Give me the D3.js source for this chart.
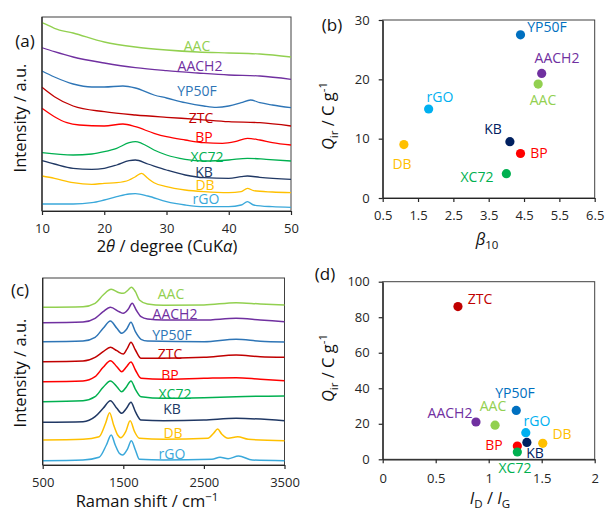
<!DOCTYPE html>
<html><head><meta charset="utf-8">
<script src="https://cdn.jsdelivr.net/npm/d3@7"></script>
<style>
body{margin:0;background:#fff}
svg{display:block}
text{font-family:"Open Sans",sans-serif}
</style>
</head><body>
<svg id="c" width="606" height="511"></svg>
<script>
// ---------- shared ----------
const samples = ["AAC","AACH2","YP50F","ZTC","BP","XC72","KB","DB","rGO"];
const lineColors = {AAC:"#92D050",AACH2:"#7030A0",YP50F:"#2E75B6",ZTC:"#C00000",BP:"#FF0000",XC72:"#00B050",KB:"#203864",DB:"#FFC000",rGO:"#3AA8DA"};
const dotColors  = {AAC:"#92D050",AACH2:"#7030A0",YP50F:"#0070C0",ZTC:"#C00000",BP:"#FF0000",XC72:"#00B050",KB:"#002060",DB:"#FFC000",rGO:"#00B0F0"};

// ---------- (a) XRD: [2theta, intensity a.u.] ----------
const xrdAAC   = [[10,188.3],[11,185.7],[12,182.7],[15,178],[20,169],[25,164],[30,161],[35,159],[40,158],[45,157],[50,154]];
const xrdAACH2 = [[10,163.3],[12,159.3],[15,154],[20,148],[25,143.3],[30,140.3],[35,138],[40,136],[45,135],[50,131.7]];
const xrdYP50F = [[10,140],[12,134],[15,127],[18,124],[20,124],[23,125],[25,123],[28,116],[30,113],[33,108.3],[36,105],[38,103.7],[40,105],[42,108.3],[43.5,111],[45,108.3],[47,106],[50,103.3]];
const xrdZTC   = [[10,123.7],[12,114.3],[15,105],[20,99.3],[25,96],[30,93.7],[35,91.7],[40,89.3],[45,88.3],[50,85]];
const xrdBP    = [[10,102.7],[12,94.3],[14,88.3],[16,86],[20,85],[23,87],[25,84.3],[28,77.7],[30,74.3],[33,71],[36,68.3],[39,67.7],[41,69.3],[43,72.7],[45,71],[47,68.3],[50,66]];
const xrdXC72  = [[10,58.3],[15,56],[18,57],[20,59.3],[22,62.7],[24,68.3],[25,69.3],[26,67.7],[28,61],[30,56],[33,51.7],[36,50],[40,51],[43,52.7],[46,51.7],[50,50]];
const xrdKB    = [[10,50.3],[12,47],[15,42.7],[18,41.7],[20,42.7],[22,46],[24,50.3],[25,51],[27,47],[30,41],[33,36],[36,33.3],[40,32.7],[42,34.3],[43,35],[45,33.7],[50,31.7]];
const xrdDB    = [[10,35],[12,32.7],[15,28.3],[18,26.7],[20,27.7],[22,28.3],[24,31],[25,34.3],[26,37.7],[27,32.7],[28,28.3],[30,24.3],[33,21],[36,19.3],[40,18.3],[42,19.3],[43,22.7],[44,20.3],[47,19],[50,18.3]];
const xrdRGO   = [[10,7],[15,7],[18,8.3],[20,11],[22,14.3],[24,17],[25,17.3],[27,15],[30,9.3],[33,6],[36,4.3],[40,4.3],[42,6],[43,9.3],[44,6],[47,4.3],[50,3.7]];
const xrdTicks = [10,20,30,40,50];

// ---------- (c) Raman: [shift cm-1, intensity a.u.] ----------
const ramAAC   = [[500,157.7],[1000,158.3],[1150,161.7],[1250,170],[1350,175.7],[1450,172.3],[1500,171.7],[1560,175],[1600,177.7],[1650,173.3],[1700,165],[1800,161],[2000,159.7],[2500,160],[2900,162.3],[3200,161],[3500,160]];
const ramAACH2 = [[500,142.3],[1000,143],[1150,146.7],[1250,153.3],[1340,157.7],[1450,153.3],[1500,151.7],[1560,155.7],[1610,161.7],[1660,155],[1720,148.3],[1800,146],[2000,145],[2500,145],[2900,146.7],[3200,145],[3500,143.3]];
const ramYP50F = [[500,123.3],[1000,124],[1150,127.7],[1250,136.7],[1340,144],[1420,136.7],[1480,131.7],[1540,135.7],[1595,142.7],[1650,133.3],[1720,125.7],[1800,124],[2500,123.3],[2900,125.7],[3200,123.7],[3500,123]];
const ramZTC   = [[500,103.3],[1000,104],[1150,107.7],[1250,113.3],[1340,117.7],[1420,114.3],[1500,111],[1550,116.7],[1595,122.7],[1650,115],[1720,106.7],[1900,106.7],[2500,107.7],[2900,110],[3200,108.3],[3500,107.7]];
const ramBP    = [[500,83.3],[1000,84],[1150,88.3],[1250,97.7],[1340,104.3],[1420,98.3],[1480,93.3],[1540,98.3],[1595,103],[1650,95],[1720,86.7],[2000,85.7],[2500,86.7],[2900,87.3],[3200,85.7],[3500,84.3]];
const ramXC72  = [[500,63.3],[1000,64.3],[1150,68.3],[1250,77.7],[1340,84],[1420,78.3],[1480,73.3],[1540,78.3],[1595,84],[1650,75.7],[1720,68.3],[2000,66.7],[2500,67.3],[2900,68.3],[3500,69]];
const ramKB    = [[500,42.7],[1000,43.3],[1150,48.3],[1250,56.7],[1340,64.3],[1420,56.7],[1480,51.7],[1540,56.7],[1595,62.7],[1650,53.3],[1720,45],[2000,44.3],[2500,45],[2900,46.7],[3500,44.3]];
const ramDB    = [[500,25],[1000,25.7],[1200,28.3],[1280,41.7],[1330,52.3],[1380,40],[1430,30],[1470,27.3],[1530,33.3],[1585,44.3],[1640,33.3],[1700,26.7],[2000,25.7],[2550,26.7],[2620,31.7],[2670,36],[2720,31],[2800,26.7],[2920,28.3],[3050,25.7],[3500,24.3]];
const ramRGO   = [[500,4.3],[1000,5],[1200,7.7],[1290,20],[1350,30],[1400,20],[1450,11.7],[1490,10],[1550,15.7],[1600,24.3],[1650,15],[1700,5.7],[2000,5],[2600,5.7],[2700,7.7],[2800,6.3],[2930,9],[3100,5],[3500,4.3]];
const ramanTicks = [500,1500,2500,3500];

// ---------- (b),(d) scatter ----------
const qir   = [19.2, 21, 27.5, 86, 7.5, 4.1, 9.5, 9, 15];          // same order as samples
const beta10 = [4.9, 5.0, 4.4, null, 4.4, 4.0, 4.1, 1.1, 1.8];
const idig  = [1.06, 0.88, 1.26, 0.71, 1.27, 1.27, 1.36, 1.51, 1.35];
const betaTicks = [0.5,1.5,2.5,3.5,4.5,5.5,6.5];
const qTicksB = [0,10,20,30];
const idigTicks = [0,0.5,1,1.5,2];
const qTicksD = [0,20,40,60,80,100];

const xrdData = {AAC:xrdAAC,AACH2:xrdAACH2,YP50F:xrdYP50F,ZTC:xrdZTC,BP:xrdBP,XC72:xrdXC72,KB:xrdKB,DB:xrdDB,rGO:xrdRGO};
const ramData = {AAC:ramAAC,AACH2:ramAACH2,YP50F:ramYP50F,ZTC:ramZTC,BP:ramBP,XC72:ramXC72,KB:ramKB,DB:ramDB,rGO:ramRGO};

// label placements (layout)
const xrdLabelPos = {AAC:[197,46],AACH2:[200,66],YP50F:[197,91],ZTC:[201,118],BP:[204,137],XC72:[207,157],KB:[204,172],DB:[205,185],rGO:[206,199]};
const ramLabelPos = {AAC:[171,294],AACH2:[175,314],YP50F:[172,335],ZTC:[170,354],BP:[170,375],XC72:[175,394],KB:[172,409],DB:[173,433],rGO:[172,454]};
const bLabelPos = {YP50F:[547,27],AACH2:[557,58],AAC:[543,100],rGO:[440,97],DB:[402,164],KB:[493,129],BP:[539,153],XC72:[477,177]};
const dLabelPos = {ZTC:[480,299],YP50F:[515,393],AACH2:[450,413],AAC:[493,406],rGO:[537,421],DB:[562,434],BP:[494,445],KB:[535,453],XC72:[515,468]};

const svg = d3.select("#c");
const AX = "#262626";
const TITLE = "16.5px";

function frame(x0,y0,x1,y1){
  svg.append("rect").attr("x",x0).attr("y",y0).attr("width",x1-x0).attr("height",y1-y0)
    .attr("fill","none").attr("stroke","#404040").attr("stroke-width",1);
}
function styleAxis(g){
  g.selectAll("path").attr("stroke",AX).attr("stroke-width",1.2);
  g.selectAll("line").attr("stroke",AX).attr("stroke-width",1.2);
  g.selectAll("text").attr("fill","#262626").style("font-size","13px").style("font-family","'Open Sans',sans-serif");
}
function panelLabel(t,x,y){
  svg.append("text").attr("x",x).attr("y",y).attr("text-anchor","middle").attr("dy","0.35em")
    .style("font-size","17px").attr("fill","#111").text(t);
}
function label(t,x,y,c,fs){
  svg.append("text").attr("x",x).attr("y",y).attr("text-anchor","middle").attr("dy","0.35em")
    .style("font-size",(fs||14)+"px").attr("fill",c).text(t);
}
function yTitleIntensity(x,y){
  svg.append("text").attr("transform",`translate(${x},${y}) rotate(-90)`).attr("text-anchor","middle")
    .attr("dy","0.35em").style("font-size",TITLE).attr("fill","#111").text("Intensity / a.u.");
}
function yTitleQ(x,y){
  const t = svg.append("text").attr("transform",`translate(${x},${y}) rotate(-90)`).attr("text-anchor","middle")
    .attr("dy","0.35em").style("font-size",TITLE).attr("fill","#111");
  t.append("tspan").style("font-style","italic").text("Q");
  t.append("tspan").style("font-size","11.5px").attr("dy","4").text("ir");
  t.append("tspan").attr("dy","-4").text(" / C g");
  t.append("tspan").style("font-size","11.5px").attr("dy","-7").text("-1");
}

// ---------- panel (a) ----------
{
  const x = d3.scaleLinear([10,50],[42,291]);
  const y = d3.scaleLinear([0,194],[211,17]);
  frame(42,17,291,211);
  const line = d3.line().x(d=>x(d[0])).y(d=>y(d[1])).curve(d3.curveMonotoneX);
  samples.forEach(s=>{
    svg.append("path").datum(xrdData[s]).attr("d",line).attr("fill","none")
      .attr("stroke",lineColors[s]).attr("stroke-width",1.3);
    label(s, xrdLabelPos[s][0], xrdLabelPos[s][1], lineColors[s]);
  });
  const g = svg.append("g").attr("transform","translate(0,211)")
    .call(d3.axisBottom(x).tickValues(xrdTicks).tickSize(4).tickSizeOuter(0).tickPadding(9));
  styleAxis(g);
  svg.append("line").attr("x1",42).attr("x2",42).attr("y1",17).attr("y2",211).attr("stroke",AX).attr("stroke-width",1.2);
  panelLabel("(a)",25,41);
  yTitleIntensity(20,118);
  const t = svg.append("text").attr("x",167).attr("y",246).attr("text-anchor","middle").attr("dy","0.35em")
    .style("font-size",TITLE).attr("fill","#111");
  t.append("tspan").text("2");
  t.append("tspan").style("font-style","italic").text("θ");
  t.append("tspan").text(" / degree (CuK");
  t.append("tspan").style("font-style","italic").text("α");
  t.append("tspan").text(")");
}

// ---------- panel (c) ----------
{
  const x = d3.scaleLinear([500,3500],[42.7,284.5]);
  const y = d3.scaleLinear([0,187],[465,278]);
  frame(42.7,278,284.5,465);
  const line = d3.line().x(d=>x(d[0])).y(d=>y(d[1])).curve(d3.curveMonotoneX);
  samples.forEach(s=>{
    svg.append("path").datum(ramData[s]).attr("d",line).attr("fill","none")
      .attr("stroke",lineColors[s]).attr("stroke-width",1.5);
    label(s, ramLabelPos[s][0], ramLabelPos[s][1], lineColors[s]);
  });
  const g = svg.append("g").attr("transform","translate(0,465)")
    .call(d3.axisBottom(x).tickValues(ramanTicks).tickFormat(d3.format("d")).tickSize(4).tickSizeOuter(0).tickPadding(9));
  styleAxis(g);
  svg.append("line").attr("x1",42.7).attr("x2",42.7).attr("y1",278).attr("y2",465).attr("stroke",AX).attr("stroke-width",1.2);
  panelLabel("(c)",20,290);
  yTitleIntensity(20,373);
  const t = svg.append("text").attr("x",147).attr("y",501).attr("text-anchor","middle").attr("dy","0.35em")
    .style("font-size",TITLE).attr("fill","#111");
  t.append("tspan").text("Raman shift / cm");
  t.append("tspan").style("font-size","11.5px").attr("dy","-6").text("−1");
}

// ---------- panel (b) ----------
{
  const x = d3.scaleLinear([0.5,6.5],[382.7,594.7]);
  const y = d3.scaleLinear([0,30],[198,20]);
  frame(382.7,20,594.7,198);
  const gx = svg.append("g").attr("transform","translate(0,198)")
    .call(d3.axisBottom(x).tickValues(betaTicks).tickFormat(d3.format(".1f")).tickSize(4).tickSizeOuter(0).tickPadding(9));
  styleAxis(gx);
  const gy = svg.append("g").attr("transform","translate(382.7,0)")
    .call(d3.axisLeft(y).tickValues(qTicksB).tickSize(4).tickSizeOuter(0).tickPadding(9));
  styleAxis(gy);
  samples.forEach((s,i)=>{
    if(beta10[i]==null) return;
    svg.append("circle").attr("cx",x(beta10[i])).attr("cy",y(qir[i])).attr("r",4.6).attr("fill",dotColors[s]);
    label(s, bLabelPos[s][0], bLabelPos[s][1], dotColors[s]);
  });
  panelLabel("(b)",332,25);
  yTitleQ(328,116);
  const t = svg.append("text").attr("x",487).attr("y",239).attr("text-anchor","middle").attr("dy","0.35em")
    .style("font-size",TITLE).attr("fill","#111");
  t.append("tspan").style("font-style","italic").text("β");
  t.append("tspan").style("font-size","11.5px").attr("dy","4").text("10");
}

// ---------- panel (d) ----------
{
  const x = d3.scaleLinear([0,2],[382.7,594.7]);
  const y = d3.scaleLinear([0,100],[459.3,281.7]);
  frame(382.7,281.7,594.7,459.3);
  const gx = svg.append("g").attr("transform","translate(0,459.3)")
    .call(d3.axisBottom(x).tickValues(idigTicks).tickFormat(d=>String(d)).tickSize(4).tickSizeOuter(0).tickPadding(10));
  styleAxis(gx);
  const gy = svg.append("g").attr("transform","translate(382.7,0)")
    .call(d3.axisLeft(y).tickValues(qTicksD).tickSize(4).tickSizeOuter(0).tickPadding(9));
  styleAxis(gy);
  samples.forEach((s,i)=>{
    svg.append("circle").attr("cx",x(idig[i])).attr("cy",y(qir[i])).attr("r",4.6).attr("fill",dotColors[s]);
    label(s, dLabelPos[s][0], dLabelPos[s][1], dotColors[s]);
  });
  panelLabel("(d)",325,274);
  yTitleQ(328,368);
  const t = svg.append("text").attr("x",490).attr("y",498).attr("text-anchor","middle").attr("dy","0.35em")
    .style("font-size",TITLE).attr("fill","#111");
  t.append("tspan").style("font-style","italic").text("I");
  t.append("tspan").style("font-size","11.5px").attr("dy","4").text("D");
  t.append("tspan").attr("dy","-4").text(" / ");
  t.append("tspan").style("font-style","italic").text("I");
  t.append("tspan").style("font-size","11.5px").attr("dy","4").text("G");
}
</script>
</body></html>
